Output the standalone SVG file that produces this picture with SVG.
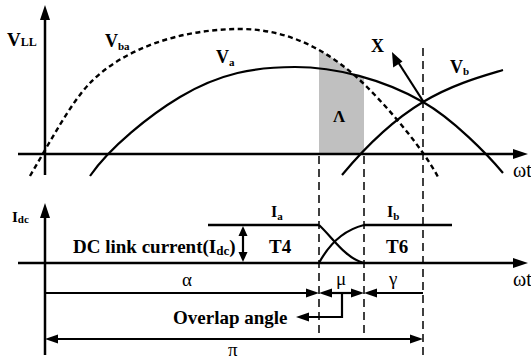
<svg xmlns="http://www.w3.org/2000/svg" width="531" height="361" viewBox="0 0 531 361">
<style>
.ax{stroke:#000;stroke-width:2.5;fill:none}
.cv{stroke:#000;stroke-width:2.2;fill:none}
.dcv{stroke:#000;stroke-width:2.4;fill:none;stroke-dasharray:5 3.5}
.vd{stroke:#000;stroke-width:1.5;fill:none;stroke-dasharray:8 5}
.ln{stroke:#000;stroke-width:2.2;fill:none}
.lb{font-family:"Liberation Serif","Times New Roman",serif;font-weight:bold;fill:#000}
.gk{font-family:"Liberation Serif","Times New Roman",serif;fill:#000}
.ah{fill:#000}
</style>
<rect width="531" height="361" fill="#fff"/>
<g id="shade">
<polygon points="319,154 319,49.8 321.6,51.5 327.7,55.1 333.6,59 339.4,63.2 345.1,67.5 350.8,72.1 353,74.5 359,75.9 364,77.3 364,154" fill="#c0c0c0"/>
</g>
<g id="top-axes">
<line class="ax" x1="45" y1="18" x2="45" y2="175"/>
<polygon class="ah" points="45,5 40,20 50,20"/>
<line class="ax" x1="18" y1="154" x2="514" y2="154"/>
<polygon class="ah" points="528,154 513,149 513,159"/>
</g>
<g id="Vba">
<path class="dcv" d="M30,176 C50,142 70,104 90,83 C123,49 180,29 240,29 C290,29 332,52 367,87 C392,112 423,149 438,177"/>
</g>
<g id="Va">
<path class="cv" d="M90,176 C110,147 150,115 180,97 C220,73 255,67 295,67 C335,67 383,79 423,102 C453,119 488,155 503,173"/>
</g>
<g id="Vb">
<path class="cv" d="M342,175 C367,145 393,120 423,102 C453,84 483,76 503,70"/>
</g>
<g id="connectors">
<line class="vd" x1="319" y1="156" x2="319" y2="336"/>
<line class="vd" x1="364" y1="156" x2="364" y2="336"/>
<line class="vd" x1="423" y1="48" x2="423" y2="358"/>
<line class="ln" x1="423" y1="101" x2="398" y2="62"/>
<polygon class="ah" points="392,52 393.2,67.5 402.5,61.5"/>
<line class="ax" x1="45" y1="215" x2="45" y2="355"/>
<polygon class="ah" points="45,203 40,218 50,218"/>
<line class="ax" x1="18" y1="263" x2="514" y2="263"/>
<polygon class="ah" points="528,263 513,258 513,268"/>
<line class="ax" x1="208" y1="225" x2="319" y2="225"/>
<line class="ax" x1="364" y1="225" x2="452" y2="225"/>
<path class="ln" d="M319,225 C333,238 345,258 364,263"/>
<path class="ln" d="M319,263 C326,250 340,231 364,225"/>
<line class="ln" x1="243" y1="234" x2="243" y2="254"/>
<polygon class="ah" points="243,226 238.5,236 247.5,236"/>
<polygon class="ah" points="243,262 238.5,252 247.5,252"/>
<line class="ln" x1="45" y1="293" x2="307" y2="293"/>
<polygon class="ah" points="319,293 306,288.5 306,297.5"/>
<line class="ln" x1="330" y1="293" x2="353" y2="293"/>
<polygon class="ah" points="319,293 332,288.5 332,297.5"/>
<polygon class="ah" points="364,293 351,288.5 351,297.5"/>
<line class="ln" x1="375" y1="293" x2="423" y2="293"/>
<polygon class="ah" points="364,293 377,288.5 377,297.5"/>
<polyline class="ln" points="342,293 342,317 308,317"/>
<polygon class="ah" points="296,317 309,312.5 309,321.5"/>
<line class="ln" x1="56" y1="339" x2="412" y2="339"/>
<polygon class="ah" points="45,339 58,334.5 58,343.5"/>
<polygon class="ah" points="423,339 410,334.5 410,343.5"/>
</g>
<g id="labels">
<text class="lb" x="7" y="46" font-size="19">V<tspan font-size="12">LL</tspan></text>
<text class="lb" x="105" y="47" font-size="18">V<tspan font-size="11" dy="3">ba</tspan></text>
<text class="lb" x="216" y="63" font-size="18">V<tspan font-size="11" dy="3">a</tspan></text>
<text class="lb" x="450" y="73" font-size="18">V<tspan font-size="11" dy="2">b</tspan></text>
<text class="lb" x="333" y="122" font-size="17">Λ</text>
<text class="lb" x="371" y="52" font-size="18">X</text>
<text class="gk" x="513" y="177" font-size="20">ωt</text>
<text class="gk" x="513" y="286" font-size="20">ωt</text>
<text class="lb" x="12" y="222" font-size="15">I<tspan font-size="11" dy="1">dc</tspan></text>
<text class="lb" x="73" y="253" font-size="19">DC link current(I<tspan font-size="13" dy="2">dc</tspan><tspan dy="-2">)</tspan></text>
<text class="lb" x="271" y="217" font-size="16">I<tspan font-size="11" dy="3">a</tspan></text>
<text class="lb" x="387" y="217" font-size="16">I<tspan font-size="11" dy="3">b</tspan></text>
<text class="lb" x="269" y="253" font-size="19">T4</text>
<text class="lb" x="386" y="253" font-size="19">T6</text>
<text class="gk" x="182" y="286" font-size="19">α</text>
<text class="gk" x="336" y="285" font-size="19">μ</text>
<text class="gk" x="389" y="285" font-size="19">γ</text>
<text class="lb" x="173" y="324" font-size="19">Overlap angle</text>
<text class="gk" x="228" y="356" font-size="19">π</text>
</g>
</svg>
